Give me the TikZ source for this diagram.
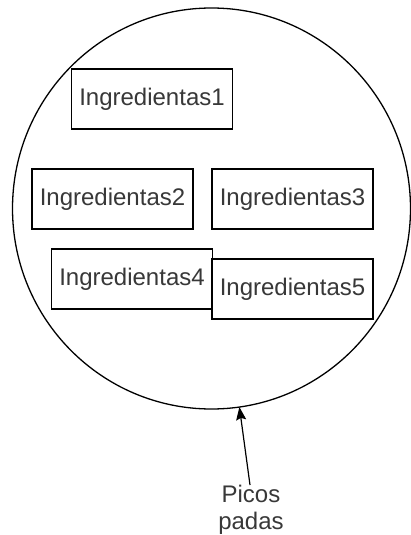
\documentclass[tikz,border=0pt]{standalone}
\usepackage{fontspec}
\setmainfont{Liberation Sans}
\usetikzlibrary{arrows.meta,shapes.geometric}
\begin{document}
\begin{tikzpicture}[x=1pt,y=-1pt,
  txt/.style={text=black!78,font=\fontsize{24}{27}\selectfont},
  ingbox/.style={txt,draw=black,fill=white,line width=1.3pt,minimum width=161pt,minimum height=60pt,inner sep=0pt,outer sep=0pt},
  ring/.style={draw=black,line width=1.3pt,ellipse,minimum width=398pt,minimum height=401pt,inner sep=0pt,outer sep=0pt},
  pointer/.style={line width=1.2pt,-{Stealth[length=13pt,width=10pt,inset=2pt]}}]
\useasboundingbox (0,0) rectangle (411,535);
% container
\node[ring] (circ) at (211.5,208.5) {};
% ingredient boxes
\node[ingbox] (i1) at (152,99) {Ingredientas1};
\node[ingbox] (i2) at (112.5,199) {Ingredientas2};
\node[ingbox] (i3) at (292.5,199) {Ingredientas3};
\node[ingbox] (i4) at (132,279) {Ingredientas4};
\node[ingbox] (i5) at (292.5,289) {Ingredientas5};
% label and pointer
\node[txt,align=center,inner sep=0pt,anchor=north] (lbl) at (251,485) {Picos\\padas};
\draw[pointer] (lbl.north) ++(-1,0) coordinate (from) (from) -- (circ.-82);
\end{tikzpicture}
\end{document}
